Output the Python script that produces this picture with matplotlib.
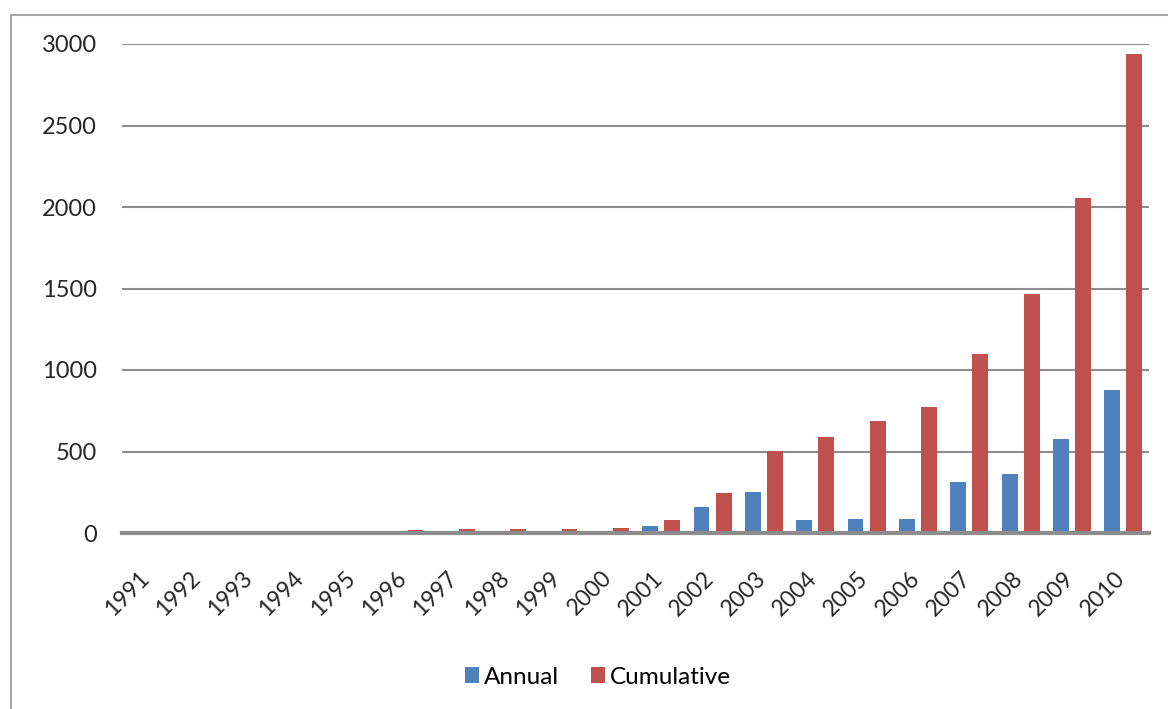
import numpy as np
import matplotlib
matplotlib.use('Agg')
import matplotlib.pyplot as plt
from matplotlib.patches import Rectangle

years = [str(y) for y in range(1991, 2011)]
annual = [0, 0, 0, 0, 0, 3, 3, 4, 3, 5, 42, 162, 250, 82, 85, 88, 315, 365, 578, 875]
cumulative = [0, 0, 0, 0, 0, 20, 22, 24, 27, 32, 80, 245, 505, 590, 685, 775, 1100, 1468, 2058, 2938]

plt.rcParams['font.family'] = ['Lato', 'DejaVu Sans']

fig = plt.figure(figsize=(11.68, 7.09), dpi=100)
W, H = 1168, 709
ax = fig.add_axes([122 / W, 1 - 533 / H, (1149 - 122) / W, (533 - 44) / H])

# outer chart frame
fig.patches.append(Rectangle((11 / W, -0.1), 1.2, 1 - 15 / H + 0.1,
                             transform=fig.transFigure, fill=False,
                             edgecolor='#a6a6a6', linewidth=1.5))

x = np.arange(len(years))
w = 0.31
ax.bar(x - 0.215, annual, w, color='#4f81bd', label='Annual', zorder=3)
ax.bar(x + 0.215, cumulative, w, color='#c0504d', label='Cumulative', zorder=3)

ax.set_xlim(-0.5, len(years) - 0.5)
ax.set_ylim(0, 3000)
ax.set_yticks(range(0, 3001, 500))
ax.set_xticks(x - 0.03)
ax.set_xticklabels(years, rotation=45, ha='right', va='center',
                   rotation_mode='anchor', fontsize=16.5, color='#262626')
ax.tick_params(axis='y', length=0, pad=18, labelsize=17, labelcolor='#262626')
ax.tick_params(axis='x', length=0, pad=30)

ax.grid(axis='y', color='#8c8c8c', linewidth=1.5, zorder=0)
ax.grid(axis='x', visible=False)
for s in ['top', 'right', 'left']:
    ax.spines[s].set_visible(False)
ax.spines['bottom'].set_color('#8c8c8c')
ax.spines['bottom'].set_linewidth(3)
ax.spines['bottom'].set_zorder(4)

ax.legend(loc='center', bbox_to_anchor=(598 / W, 1 - 677 / H),
          bbox_transform=fig.transFigure, ncol=2, frameon=False,
          fontsize=17.5, handlelength=0.6, handleheight=0.6,
          handletextpad=0.2, columnspacing=1.3)

fig.savefig('out.png', dpi=100)
